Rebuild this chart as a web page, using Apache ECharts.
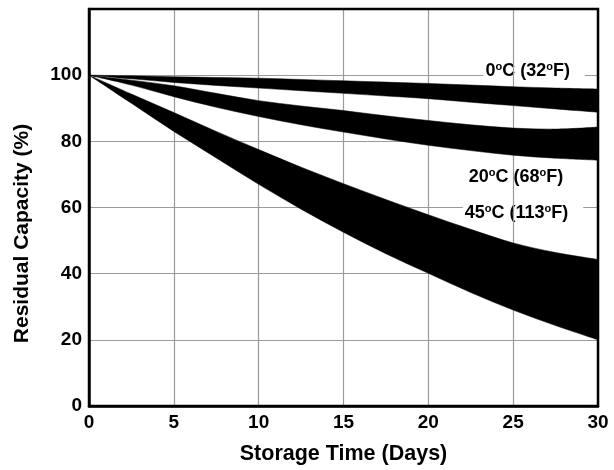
<!DOCTYPE html>
<html>
<head>
<meta charset="utf-8">
<script src="https://cdn.jsdelivr.net/npm/echarts@6/dist/echarts.min.js"></script>
<style>html,body{margin:0;padding:0;background:#fff}#c{width:614px;height:470px}</style>
</head>
<body>
<div id="c"></div>
<script>
// Storage time (days)
const days = [0, 2.5, 5, 7.5, 10, 12.5, 15, 17.5, 20, 22.5, 25, 27.5, 30];
// 0°C (32°F) band: upper and lower edge (% residual capacity)
const top0 = [100, 99.8, 99.5, 99.3, 99.1, 98.7, 98.3, 97.9, 97.5, 97.0, 96.5, 96.1, 95.8];
const bot0 = [100, 98.9, 97.8, 96.9, 96.1, 95.3, 94.5, 93.7, 92.9, 91.8, 90.8, 89.8, 88.8];
// 20°C (68°F) band
const top20 = [100, 98.5, 96.8, 94.5, 92.3, 90.7, 89.3, 87.7, 86.3, 85.0, 84.0, 83.7, 84.3];
const bot20 = [100, 97.0, 93.5, 90.3, 87.5, 85.0, 82.8, 80.7, 78.8, 77.2, 75.8, 74.9, 74.3];
// 45°C (113°F) band
const top45 = [100, 94.3, 88.7, 83.0, 77.5, 72.2, 67.2, 62.4, 57.8, 53.4, 49.3, 46.4, 44.3];
const bot45 = [100, 91.5, 83.0, 75.0, 67.0, 59.5, 52.5, 46.0, 40.1, 34.3, 29.0, 24.3, 20.0];
// Tick labels
const xTicks = [0, 5, 10, 15, 20, 25, 30];
const yTicks = [0, 20, 40, 60, 80, 100];
// Band labels (rich text) and their anchor in data units
const labelTexts = ['{n|0}{s|o}{n|C (32}{s|o}{n|F)}', '{n|20}{s|o}{n|C (68}{s|o}{n|F)}', '{n|45}{s|o}{n|C (113}{s|o}{n|F)}'];
const labelDays = [26.24, 25.55, 25.58];
const labelVals = [101.2, 69.1, 58.3];

const FONT = 'Liberation Sans, Arial, Helvetica, sans-serif';
const bands = [[top0, bot0], [top20, bot20], [top45, bot45]];

function curve(pts) {
  let s = '';
  for (let i = 0; i < pts.length - 1; i++) {
    const p0 = pts[i - 1] || pts[i], p1 = pts[i], p2 = pts[i + 1], p3 = pts[i + 2] || pts[i + 1];
    const c1 = [p1[0] + (p2[0] - p0[0]) / 6, p1[1] + (p2[1] - p0[1]) / 6];
    const c2 = [p2[0] - (p3[0] - p1[0]) / 6, p2[1] - (p3[1] - p1[1]) / 6];
    s += ' C ' + c1[0] + ' ' + c1[1] + ' ' + c2[0] + ' ' + c2[1] + ' ' + p2[0] + ' ' + p2[1];
  }
  return s;
}

const series = bands.map(([tp, bt]) => ({
  type: 'custom', z: 3, silent: true,
  data: [[0, 0]],
  encode: {x: 0, y: 1},
  renderItem: (params, api) => {
    const T = days.map((d, k) => api.coord([d, tp[k]]));
    const B = days.map((d, k) => api.coord([d, bt[k]])).reverse();
    const pathData = 'M ' + T[0][0] + ' ' + T[0][1] + curve(T) +
      ' L ' + B[0][0] + ' ' + B[0][1] + curve(B) + ' Z';
    return {type: 'path', shape: {pathData: pathData}, style: {fill: '#000', stroke: '#000', lineWidth: 0.5}};
  }
}));

const chart = echarts.init(document.getElementById('c'), null, {renderer: 'canvas'});
chart.setOption({
  animation: false,
  backgroundColor: '#fff',
  grid: {left: 89, right: 16, top: 9, bottom: 61, show: true,
         borderColor: '#000', borderWidth: 2.5, z: 4},
  xAxis: {
    type: 'value', min: 0, max: 30, interval: 5, z: 2,
    name: 'Storage Time (Days)', nameLocation: 'middle', nameGap: 37,
    nameTextStyle: {fontFamily: FONT, fontWeight: 'bold', fontSize: 21.5, color: '#000'},
    axisLine: {show: true, lineStyle: {color: '#000', width: 2.5}},
    axisTick: {show: false},
    axisLabel: {fontFamily: FONT, fontWeight: 'bold', fontSize: 19, color: '#000', margin: 7,
      formatter: v => xTicks.includes(v) ? String(v) : ''},
    splitLine: {show: true, lineStyle: {color: '#9a9a9a', width: 1.2}}
  },
  yAxis: {
    type: 'value', min: 0, max: 120, interval: 20, z: 0,
    name: 'Residual Capacity (%)', nameLocation: 'middle', nameGap: 56,
    nameTextStyle: {fontFamily: FONT, fontWeight: 'bold', fontSize: 21, color: '#000',
      padding: [0, 52, 0, 0]},
    axisLine: {show: true, lineStyle: {color: '#000', width: 2.5}},
    axisTick: {show: false},
    axisLabel: {fontFamily: FONT, fontWeight: 'bold', fontSize: 19, color: '#000', margin: 7,
      formatter: v => yTicks.includes(v) ? String(v) : ''},
    splitLine: {show: true, lineStyle: {color: '#9a9a9a', width: 1.2}}
  },
  series: series
});

const rich = {
  n: {fontFamily: FONT, fontWeight: 'bold', fontSize: 18, fill: '#000', lineHeight: 19},
  s: {fontFamily: FONT, fontWeight: 'bold', fontSize: 11, fill: '#000', lineHeight: 11, verticalAlign: 'top'}
};
chart.setOption({
  graphic: labelTexts.map((t, i) => {
    const p = chart.convertToPixel({gridIndex: 0}, [labelDays[i], labelVals[i]]);
    return {
      type: 'text', x: p[0], y: p[1], z: 1, silent: true,
      style: {text: t, rich: rich, align: 'center', verticalAlign: 'middle',
              backgroundColor: '#fff', padding: [1, 15, 1, 2]}
    };
  })
});
</script>
</body>
</html>
